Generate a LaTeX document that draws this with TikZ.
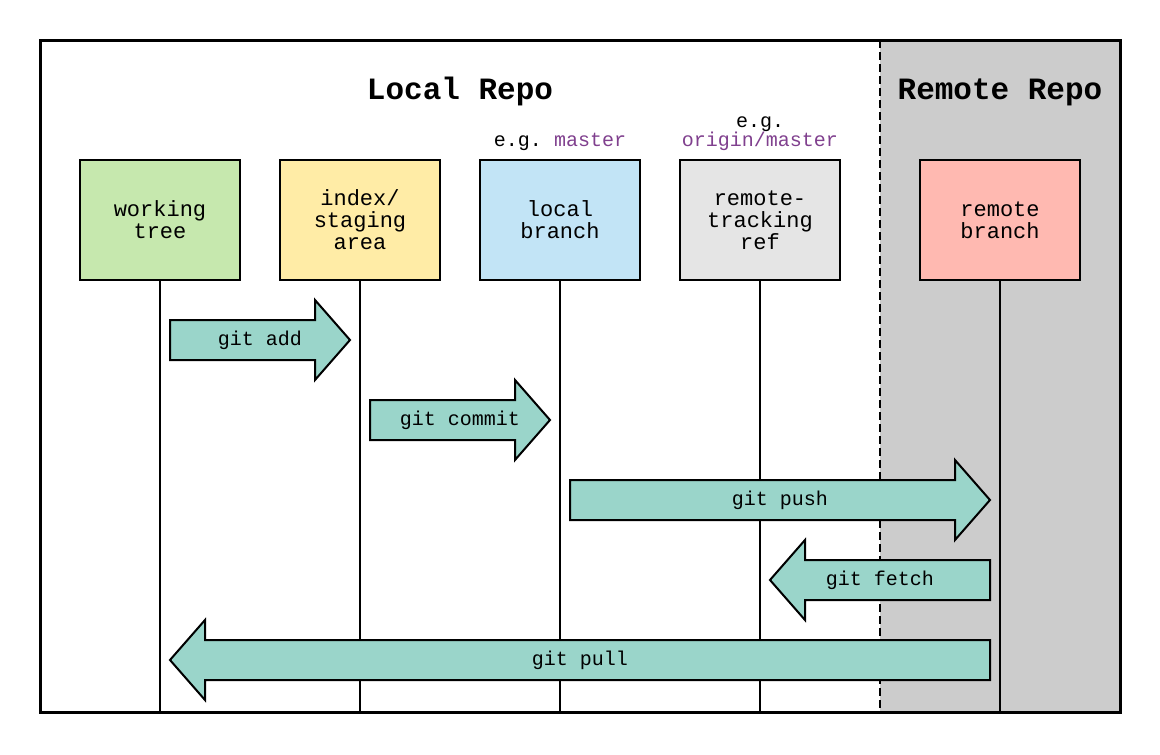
\documentclass[tikz,border=0pt]{standalone}
\usepackage{fontspec}
\setmonofont{Liberation Mono}
\usetikzlibrary{positioning,calc}

\definecolor{treegreen}{HTML}{C6E8AE}
\definecolor{indexyellow}{HTML}{FFECA6}
\definecolor{branchblue}{HTML}{C2E4F6}
\definecolor{trackgray}{HTML}{E5E5E5}
\definecolor{remotepink}{HTML}{FFB9B1}
\definecolor{cmdteal}{HTML}{9AD5CA}
\definecolor{remotearea}{HTML}{CCCCCC}
\definecolor{refpurple}{HTML}{80408E}

\begin{document}
\begin{tikzpicture}[x=1pt,y=-1pt,line width=2pt,
    font=\ttfamily\fontsize{22}{22}\selectfont,
    box/.style={draw,minimum width=160pt,minimum height=120pt,
                align=center,outer sep=0pt,inner sep=0pt},
    title/.style={font=\ttfamily\bfseries\fontsize{31}{31}\selectfont,anchor=base},
    eg/.style={font=\ttfamily\fontsize{20}{19.5}\selectfont,align=center,inner sep=0pt},
    cmd/.style={draw,fill=cmdteal,
      nodes={font=\ttfamily\fontsize{20}{20}\selectfont},
      to path={let \p1=(\tikztostart), \p2=(\tikztotarget),
                   \n1={(\x2>\x1)?1:-1},
                   \n2={\x1+10pt*\n1}, \n3={\x2-45pt*\n1}, \n4={\x2-10pt*\n1},
                   \n5={(\x1+\x2)/2} in
        (\n2,{\y1-20pt}) -- (\n3,{\y1-20pt})
        -- (\n3,{\y1-40pt}) -- (\n4,\y1)
        -- (\n3,{\y1+40pt}) -- (\n3,{\y1+20pt})
        -- (\n2,{\y1+20pt}) -- cycle
        (\n5,\y1) -- (\n5,\y1) \tikztonodes}}]

  \useasboundingbox (0,0) rectangle (1160,755);
  \coordinate (nw) at (40,40);
  \coordinate (se) at (1120,712);
  \coordinate (split) at (880,40);

  % remote side
  \fill[remotearea] (split) rectangle (se);
  \draw[dash pattern=on 8pt off 4pt] (split) -- (split |- se);

  \node[box,fill=treegreen]               (wt) at (160,220) {working\\tree};
  \node[box,fill=indexyellow,right=40pt of wt] (ix) {index/\\staging\\area};
  \node[box,fill=branchblue,right=40pt of ix]  (lb) {local\\branch};
  \node[box,fill=trackgray,right=40pt of lb]   (rt) {remote-\\tracking\\ref};
  \node[box,fill=remotepink,right=80pt of rt]  (rb) {remote\\branch};

  \node[title] (local)  at (460,99)         {Local Repo};
  \node[title] (remote) at (rb |- local.base) {Remote Repo};
  \node[eg,above=8pt of lb] (lbref) {e.g. \textcolor{refpurple}{master}};
  \node[eg,above=8pt of rt] (rtref) {e.g.\\\textcolor{refpurple}{origin/master}};

  % lifelines, with a stop for each command row
  \foreach \n in {wt,ix,lb,rt,rb} {
    \draw (\n.south) -- (\n.south |- se);
    \foreach \k/\d in {1/60,2/140,3/220,4/300,5/380}
      \coordinate (\n-\k) at ([yshift=-\d pt]\n.south);
  }

  \draw[cmd] (wt-1) to node {git add}    (ix-1);
  \draw[cmd] (ix-2) to node {git commit} (lb-2);
  \draw[cmd] (lb-3) to node {git push}   (rb-3);
  \draw[cmd] (rb-4) to node {git fetch}  (rt-4);
  \draw[cmd] (rb-5) to node {git pull}   (wt-5);

  \draw[line width=3pt] (nw) rectangle (se);
\end{tikzpicture}
\end{document}
